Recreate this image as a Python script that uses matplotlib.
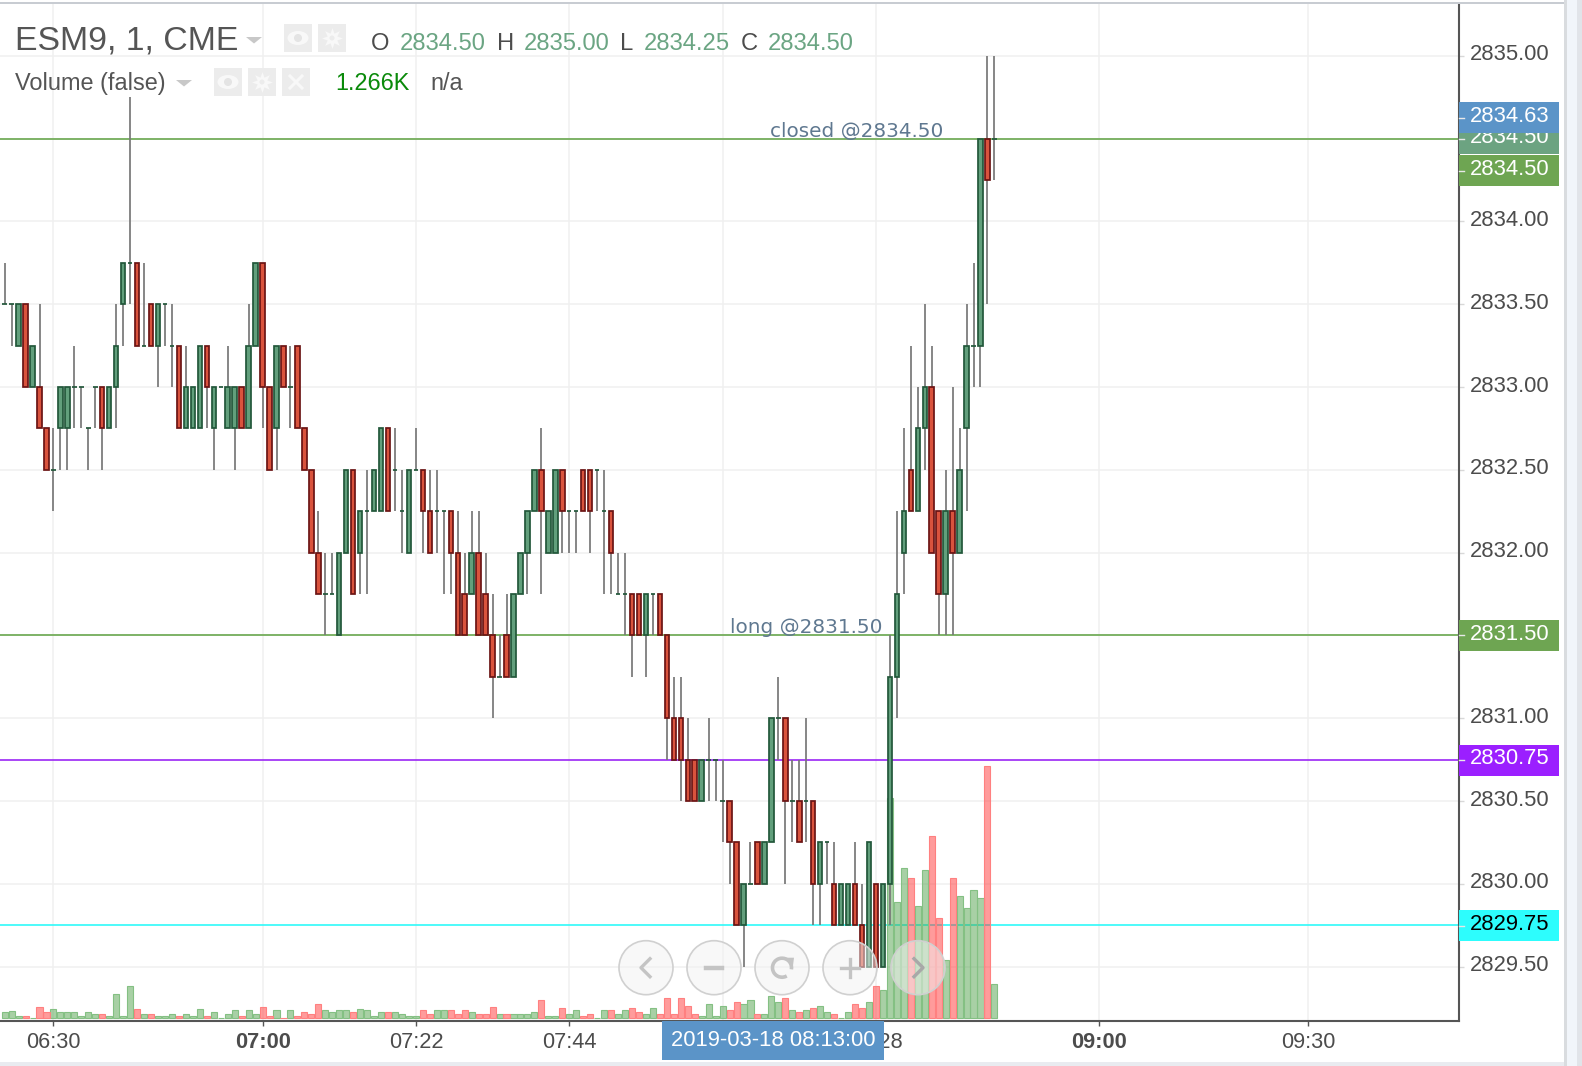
import numpy as np
import matplotlib
matplotlib.use('Agg')
import matplotlib.pyplot as plt
from matplotlib.patches import Rectangle, Circle, Ellipse, Arc
from matplotlib.transforms import ScaledTranslation

plt.rcParams['font.family'] = ['Liberation Sans', 'DejaVu Sans']

# minute of day of first bar (06:23), then one bar per minute
START_MIN = 383
BASE = 2800

opens = [33.5, 33.5, 33.25, 33.5, 33, 33, 32.75, 32.5, 32.75, 32.75,
         33, 33, 32.75, 33, 33, 32.75, 33, 33.5, 33.75, 33.75,
         33.25, 33.5, 33.25, 33.5, 33.25, 33.25, 32.75, 32.75, 32.75, 33.25,
         32.75, 33, 32.75, 32.75, 33, 32.75, 33.25, 33.75, 33, 32.75,
         33.25, 33, 33.25, 32.75, 32.5, 32, 31.75, 31.75, 31.5, 32,
         32.5, 32, 32.25, 32.25, 32.25, 32.75, 32.5, 32.25, 32, 32.5,
         32.5, 32.25, 32.25, 32.25, 32.25, 32, 31.75, 31.75, 32, 31.75,
         31.5, 31.25, 31.5, 31.25, 31.75, 32, 32.25, 32.5, 32, 32,
         32.5, 32.25, 32.25, 32.5, 32.5, 32.5, 32.25, 32.25, 31.75, 31.75,
         31.75, 31.75, 31.5, 31.75, 31.75, 31.5, 31, 31, 30.75, 30.75,
         30.5, 30.75, 30.75, 30.5, 30.5, 30.25, 29.75, 30, 30.25, 30,
         30.25, 31, 31, 30.5, 30.5, 30.5, 30.5, 30, 30.25, 30,
         29.75, 29.75, 30, 29.75, 29.5, 30, 29.5, 30, 31.25, 32,
         32.5, 32.25, 32.75, 33, 32.25, 31.75, 32.25, 32, 32.75, 33.25,
         33.25, 34.5, 34.5]
highs = [33.75, 33.5, 33.5, 33.5, 33.25, 33.5, 32.75, 32.75, 33, 33,
         33.25, 33, 32.75, 33, 33, 33, 33.5, 33.75, 34.75, 33.75,
         33.75, 33.5, 33.5, 33.5, 33.5, 33.25, 33.25, 33, 33.25, 33.25,
         33, 33, 33.25, 33, 33, 33.5, 33.75, 33.75, 33, 33.25,
         33.25, 33.25, 33.25, 32.75, 32.5, 32.25, 32, 32, 32, 32.5,
         32.5, 32.25, 32.5, 32.5, 32.75, 32.75, 32.75, 32.5, 32.5, 32.75,
         32.5, 32.5, 32.5, 32.25, 32.25, 32.25, 32, 32.25, 32.25, 32,
         31.75, 31.5, 31.75, 31.75, 32, 32.25, 32.5, 32.75, 32.25, 32.5,
         32.5, 32.25, 32.25, 32.5, 32.5, 32.5, 32.5, 32.25, 32, 32,
         31.75, 31.75, 31.75, 31.75, 31.75, 31.5, 31.25, 31.25, 31, 30.75,
         30.75, 31, 30.75, 30.75, 30.5, 30.25, 30, 30.25, 30.25, 30.25,
         31, 31.25, 31, 30.75, 30.75, 31, 30.5, 30.25, 30.25, 30.25,
         30, 30, 30.25, 30, 30.25, 30, 30, 31.5, 32.25, 32.75,
         33.25, 33, 33.5, 33.25, 32.25, 32.5, 33, 32.75, 33.5, 33.75,
         34.5, 35, 35]
lows = [33.5, 33.25, 33.25, 33, 33, 32.75, 32.5, 32.25, 32.5, 32.5,
        32.75, 32.75, 32.5, 32.75, 32.5, 32.75, 32.75, 33.25, 33.5, 33.25,
        33.25, 33.25, 33, 33.25, 33, 32.75, 32.75, 32.75, 32.75, 32.75,
        32.5, 33, 32.75, 32.5, 32.75, 32.75, 33.25, 32.75, 32.5, 32.5,
        33, 32.75, 32.75, 32.5, 32, 31.75, 31.5, 31.75, 31.5, 32,
        31.75, 31.75, 31.75, 32.25, 32.25, 32.25, 32.25, 32, 32, 32.5,
        32, 32, 32, 31.75, 31.75, 31.5, 31.5, 31.75, 31.5, 31.5,
        31, 31.25, 31.25, 31.25, 31.75, 31.75, 32.25, 31.75, 32, 32,
        32, 32, 32, 32.25, 32, 32.25, 31.75, 31.75, 31.75, 31.5,
        31.25, 31.5, 31.25, 31.5, 31.5, 30.75, 30.75, 30.5, 30.5, 30.5,
        30.5, 30.5, 30.5, 30.25, 30, 29.75, 29.5, 30, 30, 30,
        30.25, 30.75, 30, 30.25, 30.25, 30.25, 29.75, 29.75, 30, 29.75,
        29.75, 29.75, 29.75, 29.5, 29.5, 29.5, 29.5, 29.75, 31, 31.75,
        32.25, 32.25, 32.5, 32, 31.5, 31.5, 31.5, 32, 32.25, 33,
        33, 33.5, 34.25]
closes = [33.5, 33.5, 33.5, 33, 33.25, 32.75, 32.5, 32.5, 33, 33,
          33, 33, 32.75, 33, 32.75, 33, 33.25, 33.75, 33.75, 33.25,
          33.25, 33.25, 33.5, 33.5, 33.25, 32.75, 33, 33, 33.25, 33,
          33, 33, 33, 33, 32.75, 33.25, 33.75, 33, 32.5, 33.25,
          33, 33, 32.75, 32.5, 32, 31.75, 31.75, 31.75, 32, 32.5,
          31.75, 32.25, 32.25, 32.5, 32.75, 32.25, 32.5, 32.25, 32.5, 32.5,
          32.25, 32, 32.25, 32.25, 32, 31.5, 31.5, 32, 31.5, 31.5,
          31.25, 31.25, 31.25, 31.75, 32, 32.25, 32.5, 32.25, 32.25, 32.5,
          32.25, 32.25, 32.25, 32.25, 32.25, 32.5, 32.25, 32, 31.75, 31.75,
          31.5, 31.5, 31.75, 31.75, 31.5, 31, 30.75, 30.75, 30.5, 30.5,
          30.75, 30.75, 30.75, 30.5, 30.25, 29.75, 30, 30, 30, 30.25,
          31, 31, 30.5, 30.5, 30.25, 30.5, 30, 30.25, 30.25, 29.75,
          30, 30, 29.75, 29.5, 30.25, 29.5, 30, 31.25, 31.75, 32.25,
          32.25, 32.75, 33, 32, 31.75, 32.25, 32, 32.5, 33.25, 33.25,
          34.5, 34.25, 34.5]
volumes = [203, 266, 63, 63, 0, 418, 203, 342, 203, 203,
           203, 63, 203, 139, 139, 63, 886, 63, 1190, 342,
           139, 139, 63, 63, 139, 63, 139, 63, 342, 63,
           203, 0, 139, 279, 63, 279, 139, 418, 63, 279,
           0, 279, 63, 203, 139, 506, 279, 203, 279, 279,
           203, 342, 279, 63, 203, 203, 203, 139, 63, 63,
           279, 139, 279, 279, 279, 139, 279, 203, 139, 139,
           418, 127, 127, 127, 127, 127, 203, 658, 63, 63,
           354, 127, 279, 63, 127, 0, 279, 279, 127, 279,
           354, 203, 127, 354, 127, 734, 127, 734, 430, 127,
           63, 506, 63, 430, 279, 582, 506, 658, 127, 127,
           810, 582, 734, 279, 203, 279, 354, 430, 203, 127,
           0, 203, 506, 354, 582, 1190, 1038, 8330, 4380, 5672,
           5292, 4228, 5596, 6887, 3773, 2178, 5292, 4608, 4152, 4836,
           4532, 9546, 1266]

x_ticks = [390, 420, 442, 464, 486, 508, 540, 570]
# the 08:06 label is hidden by the date box in the reference
x_tick_labels = ['06:30', '07:00', '07:22', '07:44', '', '08:28', '09:00', '09:30']
x_bold = ['07:00', '09:00']
price_ticks = [2829.5, 2830, 2830.5, 2831, 2831.5, 2832, 2832.5, 2833, 2833.5, 2834, 2834.5, 2835]

# horizontal levels: price, colour
level_prices = [2834.5, 2831.5, 2830.75, 2829.75]
level_colors = ['#6aa84f', '#6aa84f', '#9b26f5', '#2ffafa']

# price tags on the right: text, centre y in px, colour, text colour
tag_texts = ['2829.75', '2830.75', '2831.50', '2834.50', '2834.50', '2834.63']
tag_y = [925.5, 760, 635, 170.5, 138.8, 117.5]
tag_colors = ['#2dfdfd', '#9b1fff', '#6ea552', '#6ea552', '#6ca381', '#5b94c8']
tag_text_colors = ['black', 'white', 'white', 'white', 'white', 'white']

opens = BASE + np.array(opens)
highs = BASE + np.array(highs)
lows = BASE + np.array(lows)
closes = BASE + np.array(closes)
volumes = np.array(volumes)
times = START_MIN + np.arange(len(opens))
is_down = closes < opens

W, H = 1582, 1066
fig = plt.figure(figsize=(W / 100, H / 100), dpi=100)
rect = [0, (H - 1021) / H, 1459 / W, (1021 - 4) / H]

ax = fig.add_axes(rect)
ax.set_xlim(382.33, 591.65)
ax.set_ylim(2829.172, 2835.313)

# grid + levels
ax.set_xticks(x_ticks)
ax.set_xticklabels(x_tick_labels)
ax.set_yticks(price_ticks)
ax.set_yticklabels(['%.2f' % p for p in price_ticks])
ax.yaxis.tick_right()
ax.grid(True, color='#f0f0f0', lw=1.1)
ax.set_axisbelow(True)
for s in ['top', 'left']:
    ax.spines[s].set_visible(False)
for s in ['right', 'bottom']:
    ax.spines[s].set_color('#555555')
    ax.spines[s].set_linewidth(1.5)
ax.tick_params(axis='x', length=3.6, width=1.0, color='#555555', labelcolor='#4c4c4c', labelsize=15.7, pad=4.5)
ax.tick_params(axis='y', length=3.6, width=1.0, color='#d8d8d8', labelcolor='#4c4c4c', labelsize=15.8, pad=4.3)
shift = ScaledTranslation(0, 0.035, fig.dpi_scale_trans)
for lab in ax.get_yticklabels():
    lab.set_transform(lab.get_transform() + shift)
for lab in ax.get_xticklabels():
    if lab.get_text() in x_bold:
        lab.set_fontweight('bold')

for p, c in zip(level_prices, level_colors):
    ax.axhline(p, color=c, lw=1.2, zorder=2)

# volume layer, over the level lines
ax_vol = fig.add_axes(rect, sharex=ax)
ax_vol.axis('off')
ax_vol.set_ylim(-3.3 * 38, 1013.7 * 38)
green_fill = (0.32, 0.64, 0.30, 0.5)
red_fill = (1.0, 0.22, 0.22, 0.5)
ax_vol.bar(times[~is_down], volumes[~is_down], width=0.87, color=[green_fill], edgecolor='#84c083', lw=0.8)
ax_vol.bar(times[is_down], volumes[is_down], width=0.87, color=[red_fill], edgecolor='#ff8080', lw=0.8)

# candles
ax_c = fig.add_axes(rect, sharex=ax, sharey=ax)
ax_c.axis('off')
ax_c.vlines(times, lows, highs, color='#787878', lw=1.25, zorder=1)
up = ~is_down
ax_c.bar(times[up], (closes - opens)[up], bottom=opens[up], width=0.64,
         color='#629f7c', edgecolor='#22573a', lw=1.25, zorder=2)
ax_c.bar(times[is_down], (opens - closes)[is_down], bottom=closes[is_down], width=0.64,
         color='#d9533d', edgecolor='#6b1414', lw=1.25, zorder=3)
ax_c.text(508.9, 2831.5 - 0.008, 'long @2831.50', ha='right', va='bottom', color='#5f7890',
          fontsize=14.4, family='DejaVu Sans')
ax_c.text(517.7, 2834.5 - 0.016, 'closed @2834.50', ha='right', va='bottom', color='#5f7890',
          fontsize=14.4, family='DejaVu Sans')

# everything below here is chrome, drawn in pixel coordinates
ui = fig.add_axes([0, 0, 1, 1])
ui.set_xlim(0, W)
ui.set_ylim(H, 0)
ui.axis('off')

ui.add_patch(Rectangle((0, 1062), W, 4, color='#e9ebf0', lw=0))
ui.add_patch(Rectangle((0, 2), W, 1.5, color='#c8ccd2', lw=0))
ui.add_patch(Rectangle((1564, 0), 3, H, color='#d9dcdf', lw=0))
ui.add_patch(Rectangle((1567, 0), 10, H, color='#f1f5fa', lw=0))
ui.add_patch(Rectangle((1577, 0), 5, H, color='#e1e4e9', lw=0))

# later tags sit over earlier ones and cut into their text
for i, (txt, yc, col, tc) in enumerate(zip(tag_texts, tag_y, tag_colors, tag_text_colors)):
    ui.add_patch(Rectangle((1459, yc - 15.5), 100, 31, color=col, lw=0, zorder=2 + 2 * i))
    ui.text(1470, yc - 1, txt, color=tc, fontsize=15.8, ha='left', va='center', zorder=3 + 2 * i)
    ui.plot([1459, 1464], [yc, yc], color='#e8e8e8', lw=1.0, zorder=3 + 2 * i)

# date box on the axis, covers the left part of the 08:28 label
ui.add_patch(Rectangle((662, 1021), 222, 38.5, color='#5b94c8', lw=0))
ui.text(773, 1040, '2019-03-18 08:13:00', color='white', fontsize=15.8, ha='center', va='center')

# legend header
ui.text(15, 50, 'ESM9, 1, CME', color='#555555', fontsize=24.3, va='baseline')
ui.text(15, 90, 'Volume (false)', color='#555555', fontsize=16.9, va='baseline')
ui.text(335, 90, '1.266K', color='#0a8a0a', fontsize=16.9, va='baseline')
ui.text(430, 90, 'n/a', color='#555555', fontsize=16.9, va='baseline')
header_x = [371, 400, 497, 524, 620, 644, 741, 768]
header_txt = ['O', '2834.50', 'H', '2835.00', 'L', '2834.25', 'C', '2834.50']
for hx, ht in zip(header_x, header_txt):
    col = '#6ba583' if len(ht) > 1 else '#4c4c4c'
    ui.text(hx, 50, ht, color=col, fontsize=17.1, va='baseline')


def triangle(x0, x1, y0, y1):
    ui.fill([x0, x1, (x0 + x1) / 2], [y0, y0, y1], color='#c8c8c8', lw=0)


def button(x, y, kind):
    ui.add_patch(Rectangle((x, y), 28, 28, color='#ececec', lw=0))
    cx, cy = x + 14, y + 14
    if kind == 'eye':
        ui.add_patch(Ellipse((cx, cy), 21, 14, color='#f8f8f8', lw=0))
        ui.add_patch(Circle((cx, cy), 4, color='#e4e4e4', lw=0))
    elif kind == 'gear':
        ui.plot([cx], [cy], marker=(8, 1, 0), ms=15, color='#f8f8f8', mew=0)
        ui.add_patch(Circle((cx, cy), 2.5, color='#ececec', lw=0, zorder=3))
    else:
        ui.plot([cx - 6, cx + 6], [cy - 6, cy + 6], color='#f8f8f8', lw=2.2)
        ui.plot([cx - 6, cx + 6], [cy + 6, cy - 6], color='#f8f8f8', lw=2.2)


triangle(246, 262, 37, 43.5)
triangle(176, 192, 80, 86.5)
button(284, 24, 'eye')
button(318, 24, 'gear')
button(214, 68, 'eye')
button(248, 68, 'gear')
button(282, 68, 'x')

# zoom/scroll buttons over the chart
nav_x = [646, 714, 782, 850, 918]
nav_y = 967.7
icon = '#c4c4c4'
for nx in nav_x:
    ui.add_patch(Circle((nx, nav_y), 27, facecolor=(0.95, 0.95, 0.95, 0.5), edgecolor='#d0d0d0', lw=1.2, zorder=5))
ui.plot([646 + 4, 646 - 5, 646 + 4], [nav_y - 9, nav_y, nav_y + 9], color=icon, lw=2.4, zorder=6)
ui.plot([714 - 8, 714 + 8], [nav_y, nav_y], color=icon, lw=3.2, zorder=6)
ui.add_patch(Arc((782, nav_y), 19, 19, theta1=-300, theta2=10, color=icon, lw=2.6, zorder=6))
ui.fill([782 + 3, 782 + 12, 782 + 11], [nav_y - 10, nav_y - 10, nav_y - 2], color=icon, lw=0, zorder=6)
ui.plot([850 - 9, 850 + 9], [nav_y, nav_y], color=icon, lw=2.4, zorder=6)
ui.plot([850, 850], [nav_y - 9, nav_y + 9], color=icon, lw=2.4, zorder=6)
ui.plot([918 - 4, 918 + 5, 918 - 4], [nav_y - 9, nav_y, nav_y + 9], color='#a8a8a8', lw=2.4, zorder=6)

fig.savefig('out.png', dpi=100)
